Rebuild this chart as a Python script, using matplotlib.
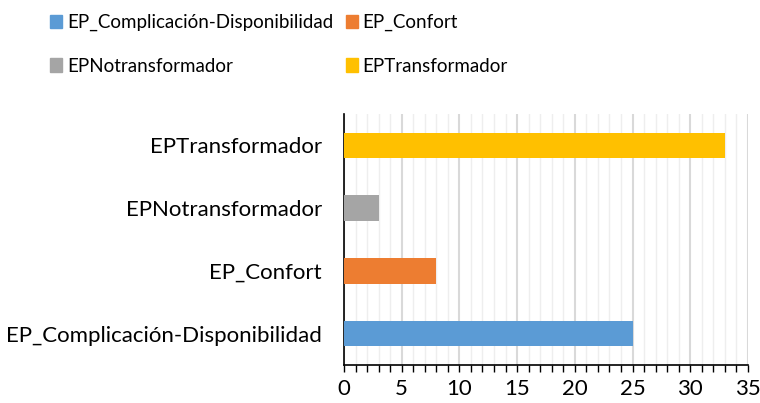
import matplotlib.pyplot as plt
from matplotlib.patches import Patch
from matplotlib.ticker import MultipleLocator

categories = [
    "EP_Complicación-Disponibilidad",
    "EP_Confort",
    "EPNotransformador",
    "EPTransformador",
]
values = [25, 8, 3, 33]
colors = ["#5b9bd5", "#ed7d31", "#a5a5a5", "#ffc000"]

plt.rcParams["font.family"] = ["Lato", "DejaVu Sans"]

fig = plt.figure(figsize=(7.6, 4.03), dpi=100)
ax = fig.add_axes([0.4526, 0.0943, 0.5316, 0.6228])

ax.barh(range(len(categories)), values, height=0.41, color=colors, zorder=3)

ax.set_xlim(0, 35)
ax.set_ylim(-0.5, len(categories) - 0.5)
ax.set_yticks(range(len(categories)), labels=categories, fontsize=16)
ax.tick_params(axis="y", length=0, pad=16)

ax.xaxis.set_major_locator(MultipleLocator(5))
ax.xaxis.set_minor_locator(MultipleLocator(1))
ax.tick_params(axis="x", which="major", length=5, width=1, labelsize=16, pad=5, direction="out")
ax.tick_params(axis="x", which="minor", length=5, width=1, direction="out")
ax.grid(axis="x", which="major", color="#d9d9d9", linewidth=1.5, zorder=0)
ax.grid(axis="x", which="minor", color="#eeeeee", linewidth=1, zorder=0)

for s in ["top", "right"]:
    ax.spines[s].set_visible(False)
ax.spines["left"].set_linewidth(1.2)
ax.spines["bottom"].set_linewidth(1.2)

# legend is row-major in the original, matplotlib fills columns first
order = [0, 2, 1, 3]
handles = [Patch(color=colors[i], label=categories[i]) for i in order]
fig.legend(
    handles=handles,
    ncol=2,
    loc="upper left",
    bbox_to_anchor=(0.044, 1.007),
    frameon=False,
    fontsize=13.5,
    handlelength=0.64,
    handleheight=0.7,
    handletextpad=0.27,
    columnspacing=0.64,
    labelspacing=1.4,
)

fig.savefig("out.png", dpi=100)
